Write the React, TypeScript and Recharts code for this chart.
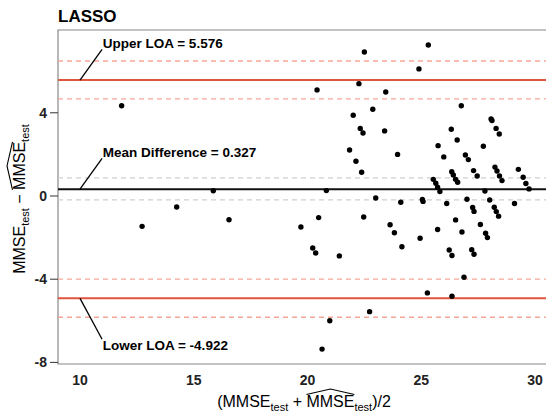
import React from 'react'
import {
  ScatterChart, Scatter, XAxis, YAxis,
  ReferenceLine, ReferenceArea, ReferenceDot,
} from 'recharts'

const FONT = '"Liberation Sans", Arial, Helvetica, sans-serif'

// mean of observed and predicted MMSE
const avgScore = [
  11.83, 12.73, 14.25, 15.86, 16.55, 19.71, 20.23, 20.36, 20.49, 20.64,
  20.83, 20.98, 21.40, 21.85, 22.01, 22.13, 22.26, 22.32, 22.38, 22.44,
  22.47, 22.50, 22.73, 22.87, 23.00, 23.39, 23.44, 23.63, 23.82, 23.96,
  24.10, 24.15, 20.42, 24.90, 24.95, 25.05, 25.08, 25.27, 25.31, 25.53,
  25.64, 25.72, 25.82, 25.72, 25.74, 25.99, 26.12, 26.23, 26.32, 26.34,
  26.35, 26.35, 26.41, 26.51, 26.51, 26.58, 26.60, 26.76, 26.79, 26.88,
  26.94, 27.01, 27.07, 27.22, 27.26, 27.32, 27.32, 27.30, 27.46, 27.60,
  27.73, 27.80, 27.83, 27.91, 28.01, 28.07, 28.11, 28.21, 28.24, 28.30,
  28.29, 28.33, 28.40, 28.44, 28.43, 28.55, 29.10, 29.27, 29.48, 29.60,
  29.74,
]

// observed minus predicted
const scoreDiff = [
  4.34, -1.46, -0.53, 0.25, -1.14, -1.49, -2.50, -2.74, -1.04, -7.36,
  0.26, -6.00, -2.88, 2.21, 3.88, 1.67, 5.40, 3.25, 1.14, 3.03,
  -1.01, 6.92, -5.56, 4.17, -0.10, 3.13, 5.00, -1.38, -1.77, 2.00,
  -0.30, -2.44, 5.10, 6.11, -2.03, -0.17, -0.26, -4.66, 7.26, 0.80,
  0.61, 0.42, 0.21, -1.61, 2.42, 1.88, -0.36, -2.60, 3.21, 1.17,
  -2.86, -4.82, 1.01, 0.80, -1.15, 2.69, 0.66, 4.34, -1.73, -3.91,
  1.97, -0.16, 1.75, -2.58, -0.55, -2.80, -0.74, 1.22, 0.96, -1.37,
  2.39, 0.24, -1.79, -2.00, -0.19, 3.70, 3.63, -0.54, 1.39, -0.75,
  3.25, 1.20, -0.97, 0.96, 2.98, 0.74, -0.36, 1.28, 0.90, 0.60,
  0.34,
]

const meanDiff = 0.327
const upperLoa = 5.576
const lowerLoa = -4.922
const meanCi = [-0.19, 0.87]
const upperCi = [4.67, 6.49]
const lowerCi = [-5.83, -4.0]

const xTicks = [10, 15, 20, 25, 30]
const yTicks = [-8, -4, 0, 4]
const xDomain = [9.033, 30.66]
const yDomain = [-8.077, 7.98]

// annotation text + leader lines
const annoText = ['Upper LOA = 5.576', 'Mean Difference = 0.327', 'Lower LOA = -4.922']
const annoFrom = [upperLoa, meanDiff, lowerLoa]
const annoTo = [7.05, 1.81, -6.89]
const annoTextY = [7.12, 1.875, -7.39]

const points = avgScore.map((x, i) => ({ x, y: scoreDiff[i] }))

const tickStyle = { fontFamily: FONT, fontSize: 14, fontWeight: 'bold', fill: '#222' }

function XTitle({ viewBox }: any) {
  const cx = viewBox.x + viewBox.width / 2
  const by = viewBox.y + 43
  return (
    <g transform={`translate(${cx},${by})`}>
      <text textAnchor="middle" fontFamily={FONT} fontSize={16} fill="#000">
        (MMSE<tspan fontSize={11} dy={3.5}>test</tspan>
        <tspan dy={-3.5}>{' + MMSE'}</tspan>
        <tspan fontSize={11} dy={3.5}>test</tspan>
        <tspan dy={-3.5}>)/2</tspan>
      </text>
      <path d="M2.4,-12.5 L26.4,-18 L50.4,-12.5" fill="none" stroke="#000" strokeWidth={1.1} />
    </g>
  )
}

function YTitle({ viewBox }: any) {
  const bx = viewBox.x + 7
  const cy = viewBox.y + viewBox.height / 2 + 2
  return (
    <g transform={`translate(${bx},${cy}) rotate(-90)`}>
      <text textAnchor="middle" fontFamily={FONT} fontSize={16} fill="#000">
        MMSE<tspan fontSize={11} dy={3.5}>test</tspan>
        <tspan dy={-3.5}>{' \u2212 MMSE'}</tspan>
        <tspan fontSize={11} dy={3.5}>test</tspan>
      </text>
      <path d="M9.1,-12.5 L33.1,-18 L57.1,-12.5" fill="none" stroke="#000" strokeWidth={1.1} />
    </g>
  )
}

const annoLabel = (text: string) => ({ viewBox }: any) => (
  <text x={viewBox.x} y={viewBox.y} fontFamily={FONT} fontSize={13.5} fontWeight="bold" fill="#000">
    {text}
  </text>
)

export default function App() {
  return (
    <div style={{ position: 'absolute', left: 0, top: 0, width: 546, height: 414, overflow: 'hidden', background: '#fff' }}>
      <div style={{ position: 'absolute', left: 58, top: 8, fontFamily: FONT, fontSize: 17, lineHeight: '17px', fontWeight: 'bold', color: '#000' }}>
        LASSO
      </div>
      <ScatterChart width={560} height={414} margin={{ top: 30, right: 10, bottom: 20, left: 18 }}>
        <XAxis
          type="number"
          dataKey="x"
          domain={xDomain}
          ticks={xTicks}
          allowDataOverflow
          axisLine={false}
          tickLine={false}
          tickSize={9}
          tickMargin={2}
          height={30}
          tick={tickStyle}
          label={{ content: (p: any) => <XTitle viewBox={p.viewBox} /> }}
        />
        <YAxis
          type="number"
          dataKey="y"
          domain={yDomain}
          ticks={yTicks}
          allowDataOverflow
          axisLine={false}
          tickLine={{ stroke: '#333' }}
          tickSize={8}
          tickMargin={3}
          width={40}
          tick={tickStyle}
          label={{ content: (p: any) => <YTitle viewBox={p.viewBox} /> }}
        />
        <ReferenceArea x1={xDomain[0]} x2={xDomain[1]} y1={yDomain[0]} y2={yDomain[1]} fill="none" stroke="#888" strokeWidth={1.2} />

        {upperCi.map((v) => (
          <ReferenceLine key={'u' + v} y={v} stroke="#F6A697" strokeWidth={1.3} strokeDasharray="5 4" />
        ))}
        {lowerCi.map((v) => (
          <ReferenceLine key={'l' + v} y={v} stroke="#F6A697" strokeWidth={1.3} strokeDasharray="5 4" />
        ))}
        {meanCi.map((v) => (
          <ReferenceLine key={'m' + v} y={v} stroke="#CFCFCF" strokeWidth={1.3} strokeDasharray="5 4" />
        ))}
        <ReferenceLine y={upperLoa} stroke="#E0553D" strokeWidth={2} />
        <ReferenceLine y={lowerLoa} stroke="#E0553D" strokeWidth={2} />
        <ReferenceLine y={meanDiff} stroke="#111" strokeWidth={2} />

        {annoText.map((t, i) => (
          <ReferenceLine
            key={'seg' + i}
            segment={[{ x: 10, y: annoFrom[i] }, { x: 10.97, y: annoTo[i] }]}
            stroke="#000"
            strokeWidth={1.3}
          />
        ))}
        {annoText.map((t, i) => (
          <ReferenceDot
            key={'lab' + i}
            x={11.0}
            y={annoTextY[i]}
            r={0.01}
            fill="none"
            stroke="none"
            label={{ content: annoLabel(t) }}
          />
        ))}

        <Scatter
          data={points}
          isAnimationActive={false}
          shape={(p: any) => <circle cx={p.cx} cy={p.cy} r={2.7} fill="#000" />}
        />
      </ScatterChart>
    </div>
  )
}
